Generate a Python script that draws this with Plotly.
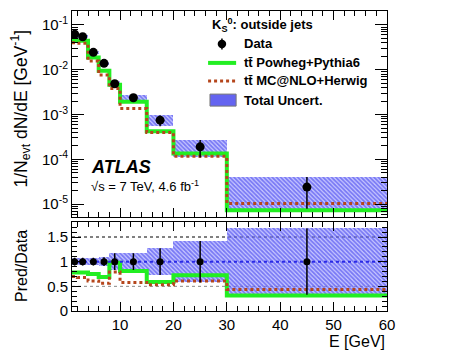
import plotly.graph_objects as go
import numpy as np

# bin edges in E [GeV]
edges = [1, 2, 4, 6, 8, 10, 15, 20, 30, 60]

# 1/N dN/dE values
data = [0.062, 0.0547, 0.0245, 0.0139, 0.00487, 0.00237, 7.5e-4, 1.9e-4, 2.4e-5]
unc = [0.08, 0.08, 0.08, 0.09, 0.17, 0.17, 0.27, 0.42, 0.67]
powheg = [0.0446, 0.0446, 0.0189, 0.0095, 0.00461, 0.00192, 4.25e-4, 1.35e-4, 7.3e-6]
mcnlo = [0.0402, 0.0390, 0.0157, 0.0076, 0.00384, 0.00137, 3.98e-4, 1.17e-4, 1.03e-5]

# Pred/Data ratios
ratio_powheg = [0.78, 0.78, 0.75, 0.69, 0.98, 0.81, 0.59, 0.725, 0.315]
ratio_mcnlo = [0.70, 0.68, 0.61, 0.56, 0.79, 0.58, 0.53, 0.61, 0.435]

yticks = [1e-5, 1e-4, 1e-3, 1e-2, 1e-1]
ytick_text = ["10<sup>-5</sup>", "10<sup>-4</sup>", "10<sup>-3</sup>", "10<sup>-2</sup>", "10<sup>-1</sup>"]
legend_labels = ["Data", "tt\u0304 Powheg+Pythia6", "tt\u0304 MC@NLO+Herwig", "Total Uncert."]

edges_a = np.array(edges, dtype=float)
centers = (edges_a[:-1] + edges_a[1:]) / 2
widths = edges_a[1:] - edges_a[:-1]
data_a = np.array(data)
unc_a = np.array(unc)

FONT = "Liberation Sans"
GREEN = "#22ee22"
BROWN = "#b5461c"
BLUE = "#2a2ae6"

def step(vals):
    return list(vals) + [vals[-1]]

fig = go.Figure()

hatch = dict(shape="\\", fgcolor="rgb(40,40,235)", bgcolor="rgba(150,150,255,0.5)", size=3, solidity=0.6)

# main panel
fig.add_trace(go.Bar(
    x=centers, y=data_a * 2 * unc_a, base=data_a * (1 - unc_a), width=widths,
    marker=dict(color="rgba(0,0,0,0)", line=dict(width=0), pattern=hatch),
    xaxis="x", yaxis="y"))
fig.add_trace(go.Scatter(
    x=edges, y=step(powheg), mode="lines", line=dict(shape="hv", color=GREEN, width=4),
    xaxis="x", yaxis="y"))
fig.add_trace(go.Scatter(
    x=edges, y=step(mcnlo), mode="lines", line=dict(shape="hv", color=BROWN, width=3, dash="dot"),
    xaxis="x", yaxis="y"))
fig.add_trace(go.Scatter(
    x=centers, y=data, mode="markers",
    marker=dict(color="black", size=9),
    error_y=dict(type="data", array=data_a * unc_a, color="black", thickness=1.5, width=0),
    xaxis="x", yaxis="y"))

# ratio panel
fig.add_trace(go.Bar(
    x=centers, y=2 * unc_a, base=1 - unc_a, width=widths,
    marker=dict(color="rgba(0,0,0,0)", line=dict(width=0), pattern=hatch),
    xaxis="x2", yaxis="y2"))
fig.add_trace(go.Scatter(
    x=edges, y=step(ratio_powheg), mode="lines", line=dict(shape="hv", color=GREEN, width=4),
    xaxis="x2", yaxis="y2"))
fig.add_trace(go.Scatter(
    x=edges, y=step(ratio_mcnlo), mode="lines", line=dict(shape="hv", color=BROWN, width=3, dash="dot"),
    xaxis="x2", yaxis="y2"))
fig.add_trace(go.Scatter(
    x=[edges[0], edges[-1]], y=[1, 1], mode="lines", line=dict(color=BLUE, width=2, dash="dot"),
    xaxis="x2", yaxis="y2"))
fig.add_trace(go.Scatter(
    x=centers, y=np.ones(len(centers)), mode="markers",
    marker=dict(color="black", size=7),
    error_y=dict(type="data", array=unc_a, color="black", thickness=1.5, width=0),
    xaxis="x2", yaxis="y2"))

for yv, col in [(1.5, "black"), (0.5, "#888888")]:
    fig.add_shape(type="line", xref="x2", yref="y2", x0=edges[0], x1=edges[-1], y0=yv, y1=yv,
                  line=dict(color=col, width=1, dash="dot"), layer="below")

ax_common = dict(showline=True, mirror="allticks", linecolor="black", linewidth=1,
                 ticks="inside", tickcolor="black", showgrid=False, zeroline=False,
                 tickfont=dict(family=FONT, size=15, color="black"))

# the page puts the figure 8px in from the window corner, so the figure is 8px smaller
fig.update_layout(
    width=448, height=346,
    margin=dict(l=64, r=69, t=3, b=43),
    paper_bgcolor="white", plot_bgcolor="white",
    barmode="overlay", bargap=0, showlegend=False,
    font=dict(family=FONT, color="black"),
    xaxis=dict(ax_common, domain=[0, 1], range=[1, 60], anchor="y", matches="x2",
               showticklabels=False, dtick=10, tick0=0, ticklen=9,
               minor=dict(ticks="inside", dtick=2, ticklen=5, tickcolor="black")),
    yaxis=dict(ax_common, domain=[0.312, 1], type="log", range=[-5.297, -0.6875],
               tickvals=yticks, ticktext=ytick_text, ticklen=12,
               minor=dict(ticks="inside", ticklen=6, tickcolor="black", dtick="D1")),
    xaxis2=dict(ax_common, domain=[0, 1], range=[1, 60], anchor="y2",
                dtick=10, tick0=0, ticklen=9,
                minor=dict(ticks="inside", dtick=2, ticklen=5, tickcolor="black")),
    yaxis2=dict(ax_common, domain=[0, 0.296], range=[0, 1.8], anchor="x2",
                tickvals=[0, 0.5, 1, 1.5], ticktext=["0", "0.5", "1", "1.5"], ticklen=9,
                minor=dict(ticks="inside", dtick=0.1, ticklen=5, tickcolor="black")),
)

# hand-made legend (ROOT-like spacing)
LX0, LX1 = 0.432, 0.521
TX = 0.540
rows_y = [0.89, 0.827, 0.767, 0.703]
legend_font = dict(family=FONT, size=13, color="black", weight="bold")

fig.add_annotation(text="K<sub>S</sub><sup>0</sup>: outside jets", xref="paper", yref="paper",
                   x=0.438, y=0.953, xanchor="left", yanchor="middle", showarrow=False,
                   font=legend_font)
for lab, yy in zip(legend_labels, rows_y):
    fig.add_annotation(text=lab, xref="paper", yref="paper", x=TX, y=yy,
                       xanchor="left", yanchor="middle", showarrow=False, font=legend_font)

fig.add_shape(type="line", xref="paper", yref="paper", x0=0.476, x1=0.476,
              y0=rows_y[0] - 0.018, y1=rows_y[0] + 0.018, line=dict(color="black", width=1.5))
fig.add_shape(type="circle", xref="paper", yref="paper", x0=0.476 - 0.0135, x1=0.476 + 0.0135,
              y0=rows_y[0] - 0.014, y1=rows_y[0] + 0.014, fillcolor="black", line=dict(width=0))
fig.add_shape(type="line", xref="paper", yref="paper", x0=LX0, x1=LX1, y0=rows_y[1], y1=rows_y[1],
              line=dict(color=GREEN, width=4))
fig.add_shape(type="line", xref="paper", yref="paper", x0=LX0, x1=LX1, y0=rows_y[2], y1=rows_y[2],
              line=dict(color=BROWN, width=3, dash="dot"))
fig.add_shape(type="rect", xref="paper", yref="paper", x0=0.438, x1=LX1,
              y0=rows_y[3] - 0.02, y1=rows_y[3] + 0.02,
              fillcolor="rgb(100,100,240)", line=dict(color="#777777", width=1))

fig.add_annotation(text="1/N<sub>evt</sub> dN/dE [GeV<sup>-1</sup>]", xref="paper", yref="paper",
                   x=-0.162, y=0.675, xanchor="center", yanchor="middle", textangle=-90,
                   showarrow=False, font=dict(family=FONT, size=17.5, color="black"))
fig.add_annotation(text="Pred/Data", xref="paper", yref="paper",
                   x=-0.162, y=0.15, xanchor="center", yanchor="middle", textangle=-90,
                   showarrow=False, font=dict(family=FONT, size=16, color="black"))
fig.add_annotation(text="E [GeV]", xref="paper", yref="paper",
                   x=1.0, y=-0.103, xanchor="right", yanchor="middle", showarrow=False,
                   font=dict(family=FONT, size=16, color="black"))
fig.add_annotation(text="<b><i>ATLAS</i></b>", xref="paper", yref="paper",
                   x=0.055, y=0.48, xanchor="left", yanchor="middle", showarrow=False,
                   font=dict(family=FONT, size=18, color="black"))
fig.add_annotation(text="\u221as = 7 TeV, 4.6 fb<sup>-1</sup>", xref="paper", yref="paper",
                   x=0.055, y=0.418, xanchor="left", yanchor="middle", showarrow=False,
                   font=dict(family=FONT, size=13, color="black"))

fig.write_html("out.html")
